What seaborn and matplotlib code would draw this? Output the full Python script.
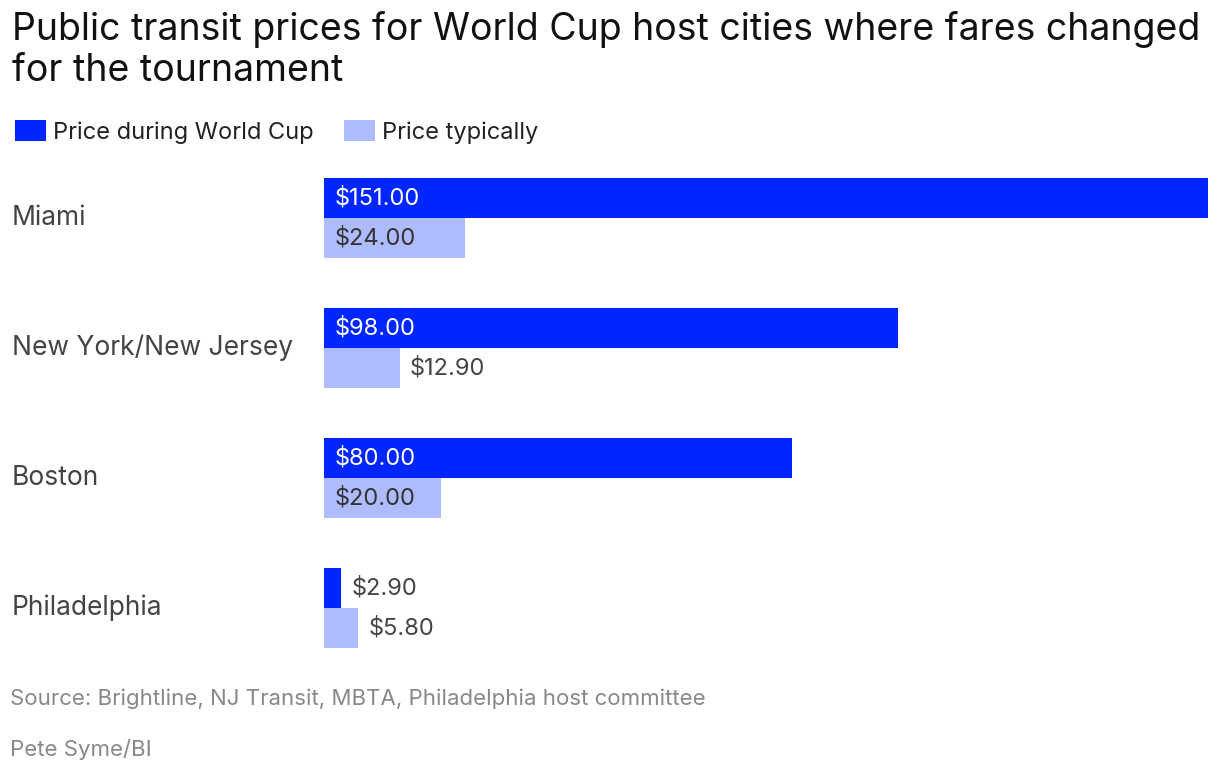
import matplotlib
matplotlib.use("Agg")
import matplotlib.pyplot as plt
import matplotlib.transforms as mtransforms
import seaborn as sns
import pandas as pd

cities = ["Miami", "New York/New Jersey", "Boston", "Philadelphia"]
during = [151.00, 98.00, 80.00, 2.90]
typical = [24.00, 12.90, 20.00, 5.80]
series = ["Price during World Cup", "Price typically"]
colors = ["#0026FF", "#AFBBFF"]

title = "Public transit prices for World Cup host cities where fares changed\nfor the tournament"
source = "Source: Brightline, NJ Transit, MBTA, Philadelphia host committee"
credit = "Pete Syme/BI"

df = pd.DataFrame({
    "city": cities * 2,
    "series": [series[0]] * len(cities) + [series[1]] * len(cities),
    "price": during + typical,
})

sns.set_theme(style="white")
plt.rcParams["font.family"] = ["Inter", "DejaVu Sans"]

fig = plt.figure(figsize=(12.2, 7.76), dpi=100)
ax = fig.add_axes([324 / 1220, 1 - 673 / 776, (1208 - 324) / 1220, (673 - 153) / 776])

sns.barplot(data=df, y="city", x="price", hue="series", order=cities,
            hue_order=series, palette=colors, width=0.615, orient="h",
            ax=ax, saturation=1, legend=True, linewidth=0, edgecolor="none")

ax.set_xlim(0, 151)
ax.set_ylim(3.5, -0.5)
for s in ax.spines.values():
    s.set_visible(False)
ax.set_xticks([])
ax.set_yticks([])
ax.set_xlabel("")
ax.set_ylabel("")

# category labels
trans = mtransforms.blended_transform_factory(fig.transFigure, ax.transData)
for i, c in enumerate(cities):
    ax.text(12 / 1220, i, c, transform=trans, ha="left", va="center",
            fontsize=19, color="#444444")

# value labels
for k, cont in enumerate(ax.containers):
    for bar in cont:
        w = bar.get_width()
        yc = bar.get_y() + bar.get_height() / 2
        txt = f"${w:,.2f}"
        if w > 15:
            ax.annotate(txt, (0, yc), xytext=(8, 0), textcoords="offset points",
                        ha="left", va="center", fontsize=17,
                        color="white" if k == 0 else "#333333")
        else:
            ax.annotate(txt, (w, yc), xytext=(7.5, 0), textcoords="offset points",
                        ha="left", va="center", fontsize=17, color="#444444")

# legend
handles, labels = ax.get_legend_handles_labels()
ax.legend_.remove()
fig.legend(handles, labels, loc="center left", bbox_to_anchor=(-6 / 1220, 1 - 132 / 776),
           ncol=2, frameon=False, fontsize=17, handlelength=1.3, handleheight=1.0,
           handletextpad=0.3, columnspacing=1.3, labelcolor="#222222")

fig.text(12 / 1220, 1 - 50 / 776, title, ha="left", va="center", fontsize=27,
         color="#111111", linespacing=1.15)
fig.text(10 / 1220, 1 - 699 / 776, source, ha="left", va="center", fontsize=16,
         color="#888888")
fig.text(10 / 1220, 1 - 749 / 776, credit, ha="left", va="center", fontsize=16,
         color="#888888")

fig.savefig("out.png", dpi=100)
